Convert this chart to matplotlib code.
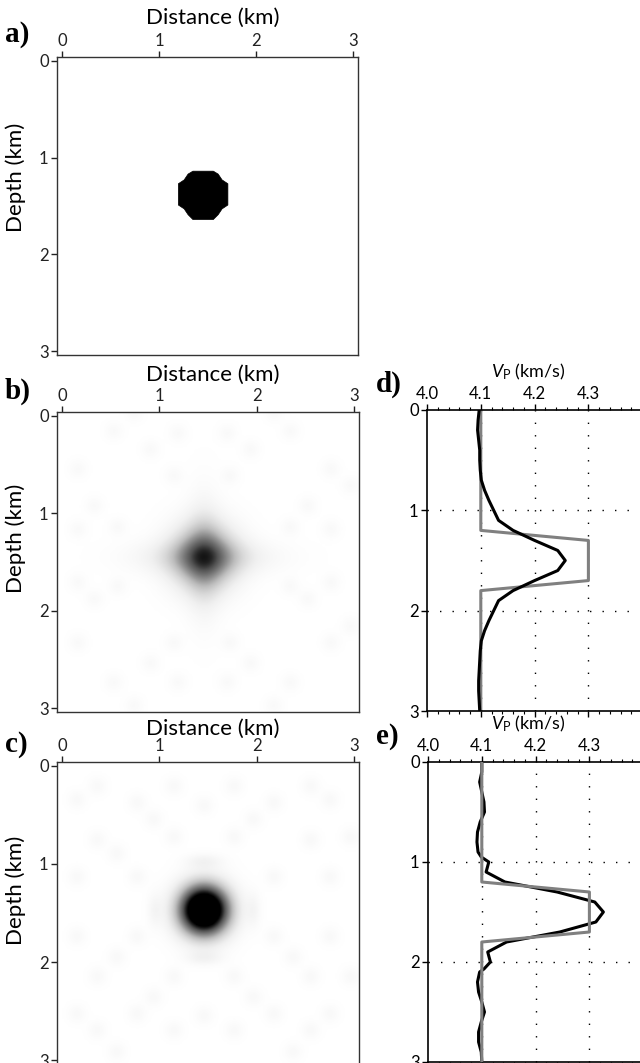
import numpy as np
import matplotlib
matplotlib.use("Agg")
from matplotlib import pyplot as plt
from matplotlib.patches import Polygon

plt.rcParams["font.family"] = ["Lato", "DejaVu Sans"]
plt.rcParams["mathtext.fontset"] = "custom"
plt.rcParams["mathtext.rm"] = "Lato"
plt.rcParams["mathtext.it"] = "Lato:italic"

# --- true model: anomaly outline (distance km, depth km) ---
anom_x = [1.35, 1.56, 1.61, 1.65, 1.71, 1.71, 1.65, 1.61, 1.56, 1.35,
          1.30, 1.26, 1.20, 1.20, 1.26, 1.30]
anom_z = [1.14, 1.14, 1.17, 1.23, 1.27, 1.49, 1.53, 1.59, 1.64, 1.64,
          1.59, 1.53, 1.49, 1.27, 1.23, 1.17]

# --- inverted images: main blob + faint background spots ---
blob_b = dict(x=1.46, z=1.45, amp=0.60, sx=0.23, sz=0.23)
arms_b = [(1.46, 1.45, 0.18, 0.46, 0.12),   # x, z, amp, sx, sz (horizontal arm)
          (1.46, 1.45, 0.15, 0.12, 0.42)]   # vertical arm
spots_b_x = [0.53, 1.19, 1.70, 2.35, 0.16, 2.77, 0.91, 1.94, 1.15, 1.73,
             0.33, 2.53, 0.16, 0.57, 2.35, 2.77, 0.16, 0.57, 2.35, 2.77,
             0.33, 2.53, 1.15, 1.73, 0.16, 2.77, 0.91, 1.94, 0.53, 1.19,
             1.70, 2.35, 0.74, 2.18, 0.74, 2.18, 2.97, 2.97]
spots_b_z = [0.15, 0.17, 0.17, 0.15, 0.54, 0.54, 0.34, 0.34, 0.61, 0.61,
             0.92, 0.92, 1.16, 1.14, 1.14, 1.16, 1.71, 1.75, 1.75, 1.71,
             1.88, 1.88, 2.33, 2.33, 2.33, 2.33, 2.54, 2.54, 2.74, 2.74,
             2.74, 2.74, 2.98, 2.98, -0.04, -0.04, 0.71, 2.16]
spot_level_b = 0.045

blob_c = dict(x=1.46, z=1.47, amp=1.58, sx=0.175, sz=0.175)
arms_c = [(1.46, 0.97, 0.09, 0.13, 0.05),
          (1.46, 1.96, 0.09, 0.13, 0.05),
          (0.95, 1.47, 0.07, 0.05, 0.12),
          (1.97, 1.47, 0.07, 0.05, 0.12)]
spots_c_x = [0.15, 0.36, 0.56, 0.77, 0.94, 1.15, 1.15, 1.77, 1.77, 1.97,
             2.18, 2.56, 2.76, 2.97, 0.15, 0.77, 2.18, 2.76, 0.15, 0.77,
             2.18, 2.76, 0.36, 0.56, 1.15, 1.77, 2.56, 2.38, 2.97, 0.15,
             0.77, 1.15, 1.77, 2.18, 2.76, 0.94, 1.97, 0.36, 2.56, 0.36,
             2.56, 1.46, 1.46, 0.56, 2.38]
spots_c_z = [0.34, 0.75, 0.89, 0.37, 0.54, 0.20, 0.72, 0.20, 0.72, 0.54,
             0.37, 0.75, 0.34, 0.72, 1.13, 1.13, 1.13, 1.13, 1.74, 1.74,
             1.74, 1.74, 2.15, 1.95, 2.15, 2.15, 2.15, 1.95, 2.15, 2.53,
             2.53, 2.70, 2.70, 2.53, 2.53, 2.36, 2.36, 2.70, 2.70, 0.20,
             0.20, 0.40, 2.55, 2.92, 2.92]
spot_level_c = 0.05

# --- 1-D velocity profiles at the anomaly ---
true_depth = [0.0, 1.2, 1.3, 1.7, 1.8, 3.0]
true_vp = [4.1, 4.1, 4.3, 4.3, 4.1, 4.1]

d_depth = [0.0, 0.1, 0.2, 0.3, 0.4, 0.5, 0.6, 0.7, 0.8, 0.9, 1.0, 1.1, 1.2,
           1.3, 1.4, 1.5, 1.6, 1.7, 1.8, 1.9, 2.0, 2.1, 2.2, 2.3, 2.4, 2.5,
           2.6, 2.7, 2.8, 2.9, 3.0]
d_vp = [4.097, 4.095, 4.094, 4.096, 4.098, 4.098, 4.099, 4.101, 4.107,
        4.115, 4.124, 4.133, 4.160, 4.200, 4.243, 4.257, 4.243, 4.200,
        4.160, 4.133, 4.124, 4.115, 4.107, 4.101, 4.099, 4.098, 4.097,
        4.096, 4.096, 4.097, 4.098]

e_depth = [0.0, 0.1, 0.2, 0.3, 0.4, 0.5, 0.6, 0.7, 0.8, 0.9, 0.95, 1.0,
           1.1, 1.2, 1.3, 1.4, 1.5, 1.6, 1.7, 1.8, 1.9, 2.0, 2.07, 2.1,
           2.2, 2.3, 2.4, 2.5, 2.6, 2.7, 2.8, 2.9, 3.0]
e_vp = [4.100, 4.100, 4.096, 4.100, 4.104, 4.105, 4.097, 4.092, 4.091,
        4.093, 4.099, 4.113, 4.108, 4.143, 4.240, 4.310, 4.326, 4.312,
        4.245, 4.146, 4.111, 4.116, 4.104, 4.096, 4.092, 4.094, 4.100,
        4.105, 4.099, 4.094, 4.094, 4.099, 4.100]

W, H = 640, 1063
fig = plt.figure(figsize=(W / 100, H / 100), dpi=100)


def box(left, top, right, bottom):
    return [left / W, 1 - bottom / H, (right - left) / W, (bottom - top) / H]


def build_image(blob, arms, sx_list, sz_list, level):
    x = np.linspace(-0.05, 3.05, 250)
    z = np.linspace(-0.05, 3.05, 250)
    X, Z = np.meshgrid(x, z)
    img = blob["amp"] * np.exp(-((X - blob["x"]) ** 2 / (2 * blob["sx"] ** 2)
                                 + (Z - blob["z"]) ** 2 / (2 * blob["sz"] ** 2)))
    for cx, cz, a, sx, sz in arms:
        img += a * np.exp(-((X - cx) ** 2 / (2 * sx ** 2) + (Z - cz) ** 2 / (2 * sz ** 2)))
    for cx, cz in zip(sx_list, sz_list):
        img += level * np.exp(-((X - cx) ** 2 + (Z - cz) ** 2) / (2 * 0.065 ** 2))
    return np.clip(img, 0, 1)


def style_image_axes(ax, letter, label_y, depth_y):
    ax.set_xlim(-0.05, 3.05)
    ax.set_ylim(3.04, -0.04)
    ax.xaxis.tick_top()
    ax.set_xticks([0, 1, 2, 3])
    ax.set_yticks([0, 1, 2, 3])
    ax.tick_params(direction="out", length=4, width=1, labelsize=12,
                   pad=2, colors="#222222")
    for s in ax.spines.values():
        s.set_color("#333333")
        s.set_linewidth(1.0)
    fig.text(213 / W, 1 - label_y / H, "Distance (km)", fontsize=16,
             ha="center", va="center")
    fig.text(16 / W, 1 - depth_y / H, "Depth (km)", fontsize=16,
             rotation=90, ha="center", va="center")
    fig.text(5 / W, 1 - (label_y + 16) / H, letter, fontsize=21,
             fontweight="bold", family="Liberation Serif", ha="left", va="center")


# a) true model
ax_a = fig.add_axes(box(57, 57, 358, 355))
ax_a.add_patch(Polygon(np.column_stack([anom_x, anom_z]), closed=True,
                       facecolor="black", edgecolor="black", linewidth=0.5))
style_image_axes(ax_a, "a)", 18, 177)

# b) and c) inverted images
ax_b = fig.add_axes(box(57, 412, 359, 712))
ax_b.imshow(build_image(blob_b, arms_b, spots_b_x, spots_b_z, spot_level_b),
            cmap="Greys", vmin=0, vmax=1, extent=(-0.05, 3.05, 3.05, -0.05),
            aspect="auto", interpolation="bilinear")
style_image_axes(ax_b, "b)", 375, 538)

ax_c = fig.add_axes(box(57, 762, 359, 1064))
ax_c.imshow(build_image(blob_c, arms_c, spots_c_x, spots_c_z, spot_level_c),
            cmap="Greys", vmin=0, vmax=1, extent=(-0.05, 3.05, 3.05, -0.05),
            aspect="auto", interpolation="bilinear")
style_image_axes(ax_c, "c)", 729, 890)


def style_profile_axes(ax, letter, top_px):
    ax.set_xlim(4.0, 4.5)
    ax.set_ylim(3.0, 0.0)
    ax.xaxis.tick_top()
    ax.set_xticks([4.0, 4.1, 4.2, 4.3, 4.4])
    ax.set_xticklabels(["4.0", "4.1", "4.2", "4.3", ""])
    ax.set_xticks(np.arange(4.0, 4.5, 0.02), minor=True)
    ax.set_yticks([0, 1, 2, 3])
    ax.tick_params(axis="x", which="both", top=True, bottom=True)
    ax.tick_params(which="major", direction="out", length=4, width=1,
                   labelsize=12, pad=2)
    ax.tick_params(which="minor", direction="out", length=2, width=0.8)
    ax.spines["right"].set_visible(False)
    for s in ax.spines.values():
        s.set_linewidth(1.2)
    for gx in [4.1, 4.2, 4.3, 4.4]:
        ax.axvline(gx, color="black", lw=1.0, ls=(0, (1, 8)), zorder=0)
    for gz in [1, 2]:
        ax.axhline(gz, color="black", lw=1.0, ls=(0, (1, 8)), zorder=0)
    fig.text(528 / W, 1 - (top_px - 38) / H, r"$V_{\mathrm{P}}$ (km/s)",
             fontsize=13, ha="center", va="center")
    fig.text(376 / W, 1 - (top_px - 26) / H, letter, fontsize=21,
             fontweight="bold", family="Liberation Serif", ha="left", va="center")


ax_d = fig.add_axes(box(427, 410, 696, 711))
ax_d.plot(true_vp, true_depth, color="#808080", lw=2.2)
ax_d.plot(d_vp, d_depth, color="black", lw=2.2)
style_profile_axes(ax_d, "d)", 410)

ax_e = fig.add_axes(box(428, 762, 697, 1062))
ax_e.plot(true_vp, true_depth, color="#808080", lw=2.2, zorder=3)
ax_e.plot(e_vp, e_depth, color="black", lw=2.2, zorder=2)
style_profile_axes(ax_e, "e)", 762)

fig.savefig("out.png", dpi=100)
